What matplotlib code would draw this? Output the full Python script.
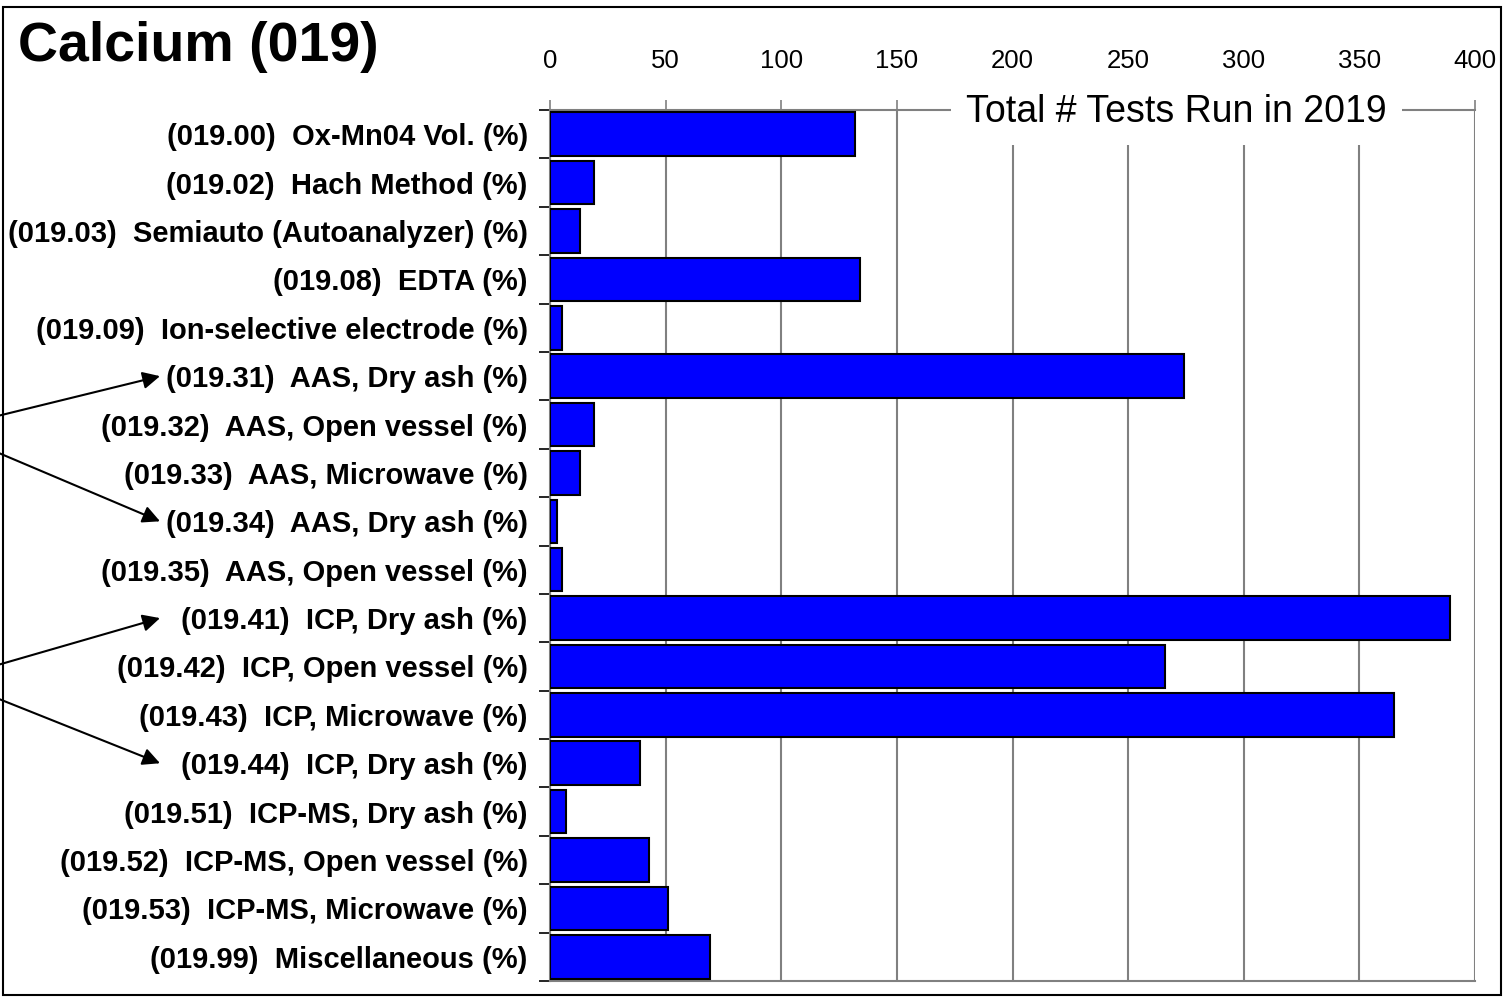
import numpy as np, matplotlib
matplotlib.use('Agg')
import matplotlib.pyplot as plt
from matplotlib.patches import Rectangle
import matplotlib.transforms as mtransforms

labels = ['(019.00)  Ox-Mn04 Vol. (%)', '(019.02)  Hach Method (%)',
          '(019.03)  Semiauto (Autoanalyzer) (%)', '(019.08)  EDTA (%)',
          '(019.09)  Ion-selective electrode (%)', '(019.31)  AAS, Dry ash (%)',
          '(019.32)  AAS, Open vessel (%)', '(019.33)  AAS, Microwave (%)',
          '(019.34)  AAS, Dry ash (%)', '(019.35)  AAS, Open vessel (%)',
          '(019.41)  ICP, Dry ash (%)', '(019.42)  ICP, Open vessel (%)',
          '(019.43)  ICP, Microwave (%)', '(019.44)  ICP, Dry ash (%)',
          '(019.51)  ICP-MS, Dry ash (%)', '(019.52)  ICP-MS, Open vessel (%)',
          '(019.53)  ICP-MS, Microwave (%)', '(019.99)  Miscellaneous (%)']
tests = [132, 19, 13, 134, 5, 274, 19, 13, 3, 5, 389, 266, 365, 39, 7, 43, 51, 69]
xticks = [0, 50, 100, 150, 200, 250, 300, 350, 400]
# pairs of same-named methods linked by arrows
linked = [(5, 8), (10, 13)]

plt.rcParams['font.family'] = ['Liberation Sans', 'DejaVu Sans']

GRID = '#808080'
fig = plt.figure(figsize=(15.05, 9.98), dpi=100)
ax = fig.add_axes([550 / 1505, 1 - 981 / 998, 925 / 1505, 871 / 998])
y = np.arange(len(labels))
ax.barh(y, tests, height=0.9, color='#0000FF', edgecolor='black', lw=1.5, zorder=3)
ax.set_xlim(0, 400)
ax.set_ylim(len(labels) - 0.5, -0.5)
ax.xaxis.tick_top()
ax.set_xticks(xticks)
ax.set_xticklabels([str(v) for v in xticks], fontsize=18.5)
ax.tick_params(axis='x', length=7, width=1.2, color=GRID, pad=20)
ax.grid(axis='x', color=GRID, lw=1.5, zorder=0)
ax.set_yticks(y)
ax.set_yticklabels(labels, fontsize=21, fontweight='bold')
ax.tick_params(axis='y', length=0, pad=16)
ax.set_yticks(np.arange(len(labels) + 1) - 0.5, minor=True)
ax.tick_params(axis='y', which='minor', length=8, width=1.2, color='black')
for s in ['top', 'bottom', 'left']:
    ax.spines[s].set_color(GRID)
    ax.spines[s].set_linewidth(1.5)
ax.spines['right'].set_visible(False)

ax.text(0.677, 0.998, 'Total # Tests Run in 2019', transform=ax.transAxes, ha='center',
        va='center', fontsize=27, zorder=10, clip_on=False,
        bbox=dict(facecolor='white', edgecolor='none', pad=11))

fig.text(18 / 1505, 1 - 47 / 998, 'Calcium (019)', fontsize=40, fontweight='bold',
         va='center', ha='left')

# arrows from a common point off the left edge to repeated labels
blend = mtransforms.blended_transform_factory(fig.transFigure, ax.transData)
for (a, b), ox, oy in zip(linked, [-57, -51], [1.1, 1.26]):
    for t in (a, b):
        ax.annotate('', xy=(160 / 1505, t), xycoords=blend, xytext=(ox / 1505, a + oy),
                    textcoords=blend, annotation_clip=False,
                    arrowprops=dict(arrowstyle='-|>', color='black', lw=1.5,
                                    mutation_scale=26, shrinkA=0, shrinkB=0))

fig.add_artist(Rectangle((3 / 1505, 3 / 998), 1498 / 1505, 988 / 998,
                         transform=fig.transFigure, fill=False, ec='black', lw=1.5))
plt.savefig('out.png', dpi=100)
print('ok')
